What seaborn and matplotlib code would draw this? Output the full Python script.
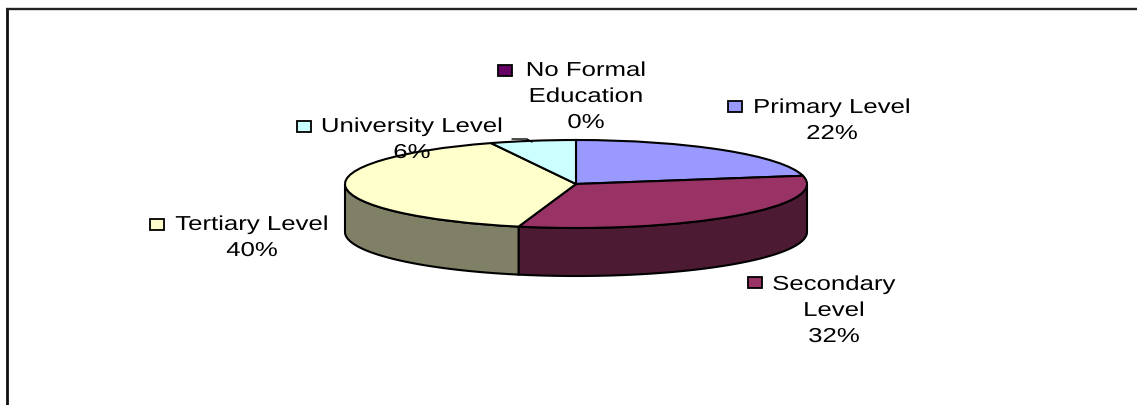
import numpy as np
import matplotlib
matplotlib.use("Agg")
import matplotlib.pyplot as plt
from matplotlib.patches import Rectangle, Polygon
from matplotlib.patheffects import AbstractPathEffect
from matplotlib.transforms import Affine2D
import seaborn as sns

# Education level shares, in percent
categories = ["No Formal\nEducation", "Primary Level", "Secondary\nLevel", "Tertiary Level", "University Level"]
shares = [0, 22, 32, 40, 6]
palette_hex = ["#660066", "#9999FF", "#993366", "#FFFFCC", "#CCFFFF"]

# Layout in pixels
WIDTH, HEIGHT = 1137, 405
CX, CY, RX, RY = 576, 184, 231, 44
DEPTH = 48
label_centres = [586, 832, 834, 252, 412]
label_baselines = [128, 139, 342, 256, 158]
key_boxes = [(498, 65), (728, 101), (748, 277), (150, 219), (297, 121)]


class WideGlyphs(AbstractPathEffect):
    """Draws each text line stretched horizontally about its own centre."""

    def __init__(self, factor):
        super().__init__()
        self.factor = factor

    def draw_path(self, renderer, gc, tpath, affine, rgbFace=None):
        box = tpath.get_extents()
        mid = 0.5 * (box.x0 + box.x1)
        stretch = Affine2D().translate(-mid, 0).scale(self.factor, 1).translate(mid, 0)
        renderer.draw_path(gc, tpath, stretch + affine, rgbFace)


sns.set_theme(style="white")
plt.rcParams["font.family"] = ["Liberation Sans", "DejaVu Sans"]
colors = sns.color_palette(palette_hex)

fig = plt.figure(figsize=(WIDTH / 100, HEIGHT / 100), dpi=100, facecolor="white")

# Pie axes: one data unit is RX pixels across and RY pixels down, so the disc reads as tilted
pie_ax = fig.add_axes([0, 0, 1, 1])
pie_ax.pie(
    shares,
    colors=colors,
    startangle=90,
    counterclock=False,
    radius=1,
    wedgeprops={"edgecolor": "black", "linewidth": 1.5, "zorder": 3},
)
pie_ax.set_aspect("auto")
pie_ax.set_xlim(-CX / RX, (WIDTH - CX) / RX)
pie_ax.set_ylim(-(HEIGHT - CY) / RY, CY / RY)

# Side wall of the disc: the part of every slice that faces the viewer
drop = DEPTH / RY
angle = 90.0
for share, colour in zip(shares, colors):
    start, angle = angle, angle - share * 3.6
    lo, hi = max(angle, -180.0), min(start, 0.0)
    if hi <= lo:
        continue
    t = np.radians(np.linspace(hi, lo, 80))
    x, y = np.cos(t), np.sin(t)
    outline = np.column_stack([np.r_[x, x[::-1]], np.r_[y, y[::-1] - drop]])
    pie_ax.add_patch(
        Polygon(outline, closed=True, facecolor=tuple(0.5 * c for c in colour),
                edgecolor="black", linewidth=1.5, zorder=2)
    )

# Overlay axes in pixel coordinates for frame, legend keys and labels
ax = fig.add_axes([0, 0, 1, 1])
ax.set_xlim(0, WIDTH)
ax.set_ylim(HEIGHT, 0)
ax.axis("off")
ax.patch.set_alpha(0)

ax.plot([7.4, 7.4], [HEIGHT, 8], color="#111111", lw=2.0, solid_capstyle="butt")
ax.plot([6, WIDTH], [8.8, 8.8], color="#222222", lw=1.7, solid_capstyle="butt")
ax.plot([512, 527, 532], [139, 139, 142], color="black", lw=1)

for name, share, colour, xc, yb, (kx, ky) in zip(
    categories, shares, colors, label_centres, label_baselines, key_boxes
):
    ax.add_patch(Rectangle((kx, ky), 14, 11, facecolor=colour, edgecolor="black", lw=1.3))
    t = ax.text(xc, yb, f"{name}\n{share}%", ha="center", va="baseline", ma="center",
                fontsize=14.5, color="black", linespacing=1.47)
    t.set_path_effects([WideGlyphs(1.28)])

fig.savefig("out.png", dpi=100)
